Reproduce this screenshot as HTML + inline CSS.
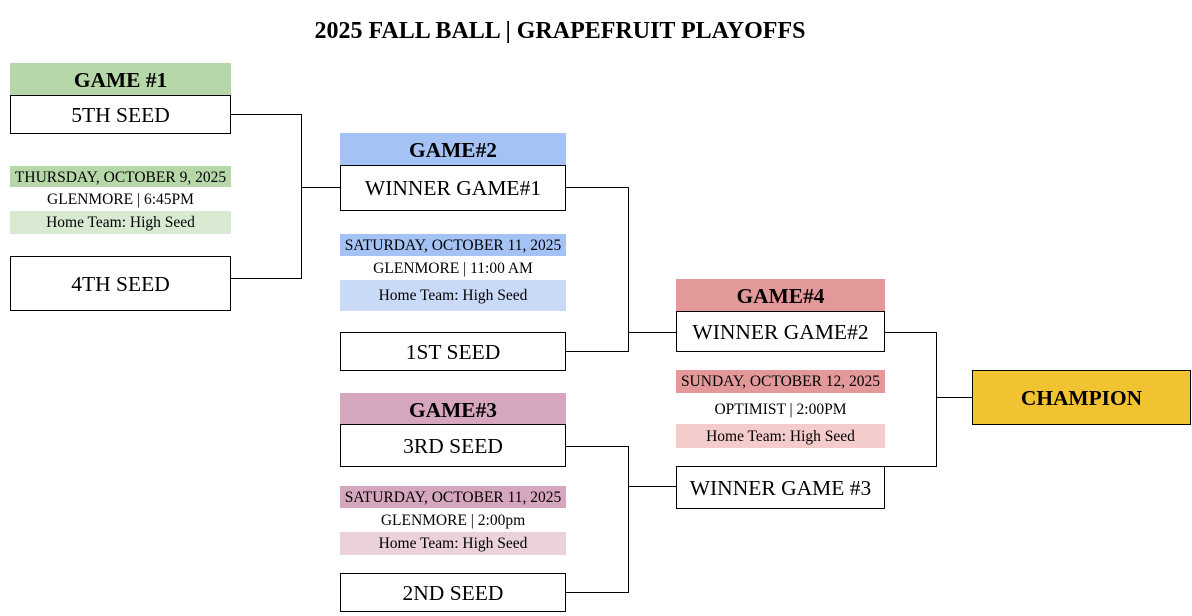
<!DOCTYPE html><html><head><style>
body{margin:0;width:1192px;height:616px;background:#fff;position:relative;font-family:"Liberation Serif",serif;color:#000;overflow:hidden}
div{position:absolute;box-sizing:border-box;text-align:center;white-space:nowrap}
.h{font-weight:bold;font-size:21.4px}
.b{border:1px solid #000;background:#fff;font-size:21.5px}
.s{font-size:15.5px}
.l{background:#000}
</style></head><body>
<div style="left:0;width:1120px;top:17px;font-size:24px;font-weight:bold;line-height:28px">2025 FALL BALL | GRAPEFRUIT PLAYOFFS</div>

<div class="h" style="left:10px;top:63px;width:221px;height:32px;line-height:35px;background:#b6d7a8">GAME #1</div>
<div class="b" style="left:10px;top:95px;width:221px;height:39px;line-height:38px">5TH SEED</div>
<div class="s" style="left:10px;top:166px;width:221px;height:21px;line-height:23px;background:#b6d7a8">THURSDAY, OCTOBER 9, 2025</div>
<div class="s" style="left:10px;top:188px;width:221px;height:22px;line-height:23px">GLENMORE | 6:45PM</div>
<div class="s" style="left:10px;top:211px;width:221px;height:23px;line-height:24px;background:#d9ead3">Home Team: High Seed</div>
<div class="b" style="left:10px;top:256px;width:221px;height:55px;line-height:54px">4TH SEED</div>

<div class="h" style="left:340px;top:133px;width:226px;height:32px;line-height:35px;background:#a4c2f4">GAME#2</div>
<div class="b" style="left:340px;top:165px;width:226px;height:46px;line-height:45px">WINNER GAME#1</div>
<div class="s" style="left:340px;top:234px;width:226px;height:22px;line-height:23px;background:#a4c2f4">SATURDAY, OCTOBER 11, 2025</div>
<div class="s" style="left:340px;top:257px;width:226px;height:22px;line-height:23px">GLENMORE | 11:00 AM</div>
<div class="s" style="left:340px;top:280px;width:226px;height:31px;line-height:32px;background:#c9daf8">Home Team: High Seed</div>
<div class="b" style="left:340px;top:332px;width:226px;height:39px;line-height:38px">1ST SEED</div>

<div class="h" style="left:340px;top:393px;width:226px;height:31px;line-height:34px;background:#d5a6bd">GAME#3</div>
<div class="b" style="left:340px;top:424px;width:226px;height:43px;line-height:42px">3RD SEED</div>
<div class="s" style="left:340px;top:486px;width:226px;height:22px;line-height:23px;background:#d5a6bd">SATURDAY, OCTOBER 11, 2025</div>
<div class="s" style="left:340px;top:509px;width:226px;height:22px;line-height:23px">GLENMORE | 2:00pm</div>
<div class="s" style="left:340px;top:532px;width:226px;height:23px;line-height:24px;background:#ead1dc">Home Team: High Seed</div>
<div class="b" style="left:340px;top:573px;width:226px;height:39px;line-height:38px">2ND SEED</div>

<div class="h" style="left:676px;top:279px;width:209px;height:32px;line-height:35px;background:#e39999">GAME#4</div>
<div class="b" style="left:676px;top:311px;width:209px;height:41px;line-height:40px">WINNER GAME#2</div>
<div class="s" style="left:676px;top:370px;width:209px;height:23px;line-height:24px;background:#e39999">SUNDAY, OCTOBER 12, 2025</div>
<div class="s" style="left:676px;top:394px;width:209px;height:30px;line-height:31px">OPTIMIST | 2:00PM</div>
<div class="s" style="left:676px;top:424px;width:209px;height:24px;line-height:25px;background:#f4cccc">Home Team: High Seed</div>
<div class="b" style="left:676px;top:466px;width:209px;height:43px;line-height:42px">WINNER GAME #3</div>

<div class="h" style="left:972px;top:370px;width:219px;height:55px;line-height:54px;background:#f1c232;border:1px solid #000">CHAMPION</div>

<div class="l" style="left:231px;top:114px;width:71px;height:1px"></div>
<div class="l" style="left:301px;top:114px;width:1px;height:165px"></div>
<div class="l" style="left:231px;top:278px;width:71px;height:1px"></div>
<div class="l" style="left:301px;top:187px;width:39px;height:1px"></div>

<div class="l" style="left:566px;top:187px;width:63px;height:1px"></div>
<div class="l" style="left:628px;top:187px;width:1px;height:165px"></div>
<div class="l" style="left:566px;top:351px;width:63px;height:1px"></div>
<div class="l" style="left:628px;top:332px;width:48px;height:1px"></div>

<div class="l" style="left:566px;top:446px;width:63px;height:1px"></div>
<div class="l" style="left:628px;top:446px;width:1px;height:147px"></div>
<div class="l" style="left:566px;top:592px;width:63px;height:1px"></div>
<div class="l" style="left:628px;top:486px;width:48px;height:1px"></div>

<div class="l" style="left:885px;top:332px;width:52px;height:1px"></div>
<div class="l" style="left:936px;top:332px;width:1px;height:135px"></div>
<div class="l" style="left:885px;top:466px;width:52px;height:1px"></div>
<div class="l" style="left:936px;top:397px;width:36px;height:1px"></div>
</body></html>
